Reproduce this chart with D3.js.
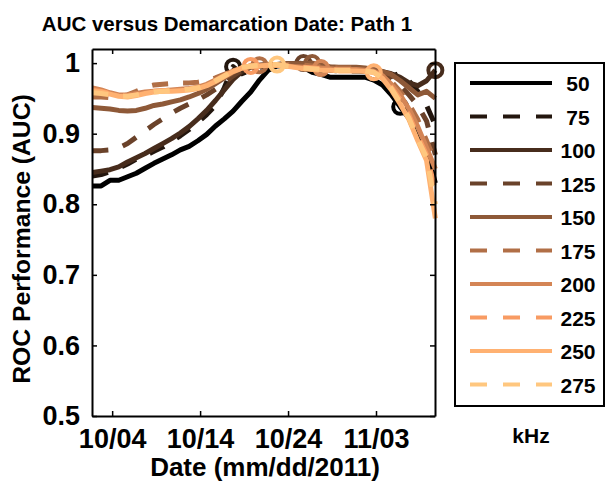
<!DOCTYPE html>
<html>
<head>
<meta charset="utf-8">
<script src="https://cdn.jsdelivr.net/npm/d3@7"></script>
<style>
  body { margin: 0; background: #fff; }
  text { font-family: "Liberation Sans", Arial, sans-serif; font-weight: bold; }
</style>
</head>
<body>
<script>
// demarcation dates (one per day, 18:00)
var dates = ["10/01","10/02","10/03","10/04","10/05","10/06","10/07","10/08","10/09","10/10",
             "10/11","10/12","10/13","10/14","10/15","10/16","10/17","10/18","10/19","10/20",
             "10/21","10/22","10/23","10/24","10/25","10/26","10/27","10/28","10/29","10/30",
             "10/31","11/01","11/02","11/03","11/04","11/05","11/06","11/07","11/08","11/09"];

var freqs = ["50","75","100","125","150","175","200","225","250","275"];

// AUC per frequency
var s50  = [0.826,0.826,0.834,0.834,0.839,0.844,0.851,0.858,0.864,0.870,0.877,0.882,0.890,0.899,0.911,0.921,0.932,0.946,0.959,0.976,0.990,0.996,0.997,0.997,0.994,0.987,0.984,0.980,0.980,0.980,0.980,0.980,0.976,0.969,0.955,0.938,0.922,0.893,0.877,0.830];
var s75  = [0.840,0.842,0.846,0.851,0.857,0.864,0.869,0.875,0.881,0.889,0.897,0.906,0.916,0.927,0.940,0.965,0.995,0.985,0.990,0.994,0.996,0.997,0.998,0.998,0.999,0.998,0.994,0.990,0.989,0.989,0.989,0.988,0.987,0.984,0.981,0.986,0.975,0.960,0.940,0.912];
var s100 = [0.845,0.847,0.849,0.853,0.860,0.866,0.872,0.879,0.886,0.893,0.901,0.910,0.921,0.933,0.947,0.962,0.977,0.988,0.994,0.996,0.997,0.998,0.999,0.999,0.998,0.997,0.995,0.993,0.992,0.992,0.992,0.991,0.990,0.988,0.985,0.980,0.972,0.968,0.975,0.990];
var s125 = [0.876,0.876,0.877,0.880,0.886,0.895,0.904,0.913,0.921,0.929,0.936,0.942,0.948,0.955,0.963,0.972,0.982,0.990,0.995,0.997,0.998,0.998,0.999,0.999,1.000,0.998,0.996,0.994,0.993,0.993,0.993,0.992,0.990,0.986,0.978,0.968,0.955,0.940,0.918,0.870];
var s150 = [0.937,0.936,0.935,0.933,0.932,0.933,0.936,0.940,0.942,0.945,0.948,0.952,0.957,0.963,0.971,0.979,0.987,0.993,0.996,0.997,0.998,0.998,0.999,0.999,0.999,1.000,0.997,0.995,0.994,0.994,0.994,0.993,0.991,0.988,0.984,0.975,0.965,0.955,0.960,0.950];
var s175 = [0.952,0.952,0.951,0.952,0.955,0.960,0.966,0.969,0.970,0.971,0.972,0.972,0.973,0.975,0.979,0.984,0.989,0.993,0.996,0.997,0.998,0.998,0.998,0.998,0.997,0.996,0.995,0.994,0.993,0.993,0.993,0.992,0.989,0.983,0.974,0.960,0.942,0.920,0.890,0.860];
var s200 = [0.965,0.962,0.958,0.955,0.955,0.957,0.959,0.960,0.961,0.962,0.963,0.964,0.966,0.970,0.976,0.983,0.989,0.993,0.995,0.996,0.997,0.997,0.996,0.995,0.994,0.993,0.993,0.992,0.991,0.991,0.991,0.990,0.988,0.982,0.970,0.955,0.935,0.910,0.880,0.850];
var s225 = [0.962,0.960,0.957,0.954,0.953,0.955,0.958,0.960,0.961,0.962,0.962,0.963,0.965,0.969,0.975,0.982,0.989,0.994,0.996,0.997,0.997,0.997,0.996,0.995,0.994,0.993,0.992,0.991,0.990,0.990,0.990,0.989,0.987,0.980,0.966,0.948,0.926,0.897,0.870,0.820];
var s250 = [0.960,0.959,0.956,0.953,0.952,0.954,0.957,0.959,0.960,0.960,0.961,0.962,0.964,0.968,0.974,0.981,0.988,0.993,0.995,0.996,0.997,0.997,0.996,0.994,0.992,0.991,0.990,0.990,0.989,0.989,0.989,0.988,0.987,0.978,0.962,0.942,0.920,0.890,0.862,0.780];
var s275 = [0.958,0.957,0.955,0.953,0.953,0.955,0.957,0.959,0.960,0.961,0.962,0.963,0.965,0.969,0.975,0.982,0.989,0.994,0.996,0.997,0.998,0.998,0.996,0.994,0.993,0.992,0.991,0.990,0.990,0.990,0.990,0.989,0.987,0.979,0.964,0.944,0.922,0.892,0.866,0.800];

// index of the circled point on each curve
var markerIdx = [35,16,39,24,25,19,26,18,32,21];

var xTickLabels = ["10/04","10/14","10/24","11/03"];
var yTickValues = [0.5,0.6,0.7,0.8,0.9,1];

var series = [s50,s75,s100,s125,s150,s175,s200,s225,s250,s275];
var colors = ["#000000","#23160e","#472c1c","#6a422a","#8e5938","#b16f46","#d48555","#f89b63","#ffb171","#ffc77f"];

function chart() {
  var w = 606;
  var h = 493;
  var left = 92, right = 435, top = 49, bottom = 416;

  var parse = d3.timeParse("%m/%d/%Y %H");
  var t = dates.map(function (d) { return parse(d + "/2011 18"); });

  var x = d3.scaleTime()
            .domain([parse("10/01/2011 17"), parse("11/09/2011 17")])
            .range([left, right]);
  var y = d3.scaleLinear()
            .domain([0.5, 1.02])
            .range([bottom, top]);

  var svg = d3.select("body")
              .append("svg")
              .attr("width", w)
              .attr("height", h);

  var line = d3.line()
               .x(function (d, i) { return x(t[i]); })
               .y(function (d) { return y(d); });

  series.forEach(function (s, k) {
    var dashed = k % 2 === 1;
    svg.append("path")
       .attr("d", line(s))
       .attr("fill", "none")
       .attr("stroke", colors[k])
       .attr("stroke-width", 5)
       .attr("stroke-linejoin", "round")
       .attr("stroke-dasharray", dashed ? "16,15" : null);

    svg.append("circle")
       .attr("cx", x(t[markerIdx[k]]))
       .attr("cy", y(s[markerIdx[k]]))
       .attr("r", 7)
       .attr("fill", "none")
       .attr("stroke", colors[k])
       .attr("stroke-width", 4);
  });

  // axes, box style with inward ticks
  var xTicks = xTickLabels.map(function (d) { return parse(d + "/2011 0"); });
  var fmt = d3.timeFormat("%m/%d");

  svg.append("g")
     .attr("transform", "translate(0," + bottom + ")")
     .call(d3.axisBottom(x).tickValues(xTicks).tickFormat(fmt).tickSizeInner(-5).tickSizeOuter(0).tickPadding(13));
  svg.append("g")
     .attr("transform", "translate(0," + top + ")")
     .call(d3.axisTop(x).tickValues(xTicks).tickFormat("").tickSizeInner(-5).tickSizeOuter(0));
  svg.append("g")
     .attr("transform", "translate(" + left + ",0)")
     .call(d3.axisLeft(y).tickValues(yTickValues).tickFormat(d3.format("")).tickSizeInner(-5).tickSizeOuter(0).tickPadding(12));
  svg.append("g")
     .attr("transform", "translate(" + right + ",0)")
     .call(d3.axisRight(y).tickValues(yTickValues).tickFormat("").tickSizeInner(-5).tickSizeOuter(0));

  svg.selectAll(".domain").attr("stroke", "#000").attr("stroke-width", 2);
  svg.selectAll(".tick line").attr("stroke", "#000").attr("stroke-width", 1.5);
  svg.selectAll(".tick text")
     .attr("font-size", "27px")
     .attr("fill", "#000")
     .attr("font-family", null);

  // titles
  svg.append("text")
     .text("AUC versus Demarcation Date: Path 1")
     .attr("x", 227)
     .attr("y", 31)
     .attr("text-anchor", "middle")
     .attr("font-size", "20.5px");

  svg.append("text")
     .text("Date (mm/dd/2011)")
     .attr("x", 265)
     .attr("y", 476)
     .attr("text-anchor", "middle")
     .attr("font-size", "26px");

  svg.append("text")
     .text("ROC Performance (AUC)")
     .attr("transform", "translate(30,239) rotate(-90)")
     .attr("text-anchor", "middle")
     .attr("font-size", "24.7px");

  // legend
  var lg = svg.append("g");
  lg.append("rect")
    .attr("x", 455).attr("y", 63)
    .attr("width", 149).attr("height", 343)
    .attr("fill", "#fff")
    .attr("stroke", "#000")
    .attr("stroke-width", 2);

  freqs.forEach(function (f, k) {
    var ly = 83 + k * 33.5;
    lg.append("line")
      .attr("x1", 470).attr("x2", 552)
      .attr("y1", ly).attr("y2", ly)
      .attr("stroke", colors[k])
      .attr("stroke-width", 4)
      .attr("stroke-dasharray", k % 2 === 1 ? "17,16" : null);
    lg.append("text")
      .text(f)
      .attr("x", 578)
      .attr("y", ly + 8)
      .attr("text-anchor", "middle")
      .attr("font-size", "21px");
  });

  svg.append("text")
     .text("kHz")
     .attr("x", 531)
     .attr("y", 443)
     .attr("text-anchor", "middle")
     .attr("font-size", "21px");
}

chart();
</script>
</body>
</html>
